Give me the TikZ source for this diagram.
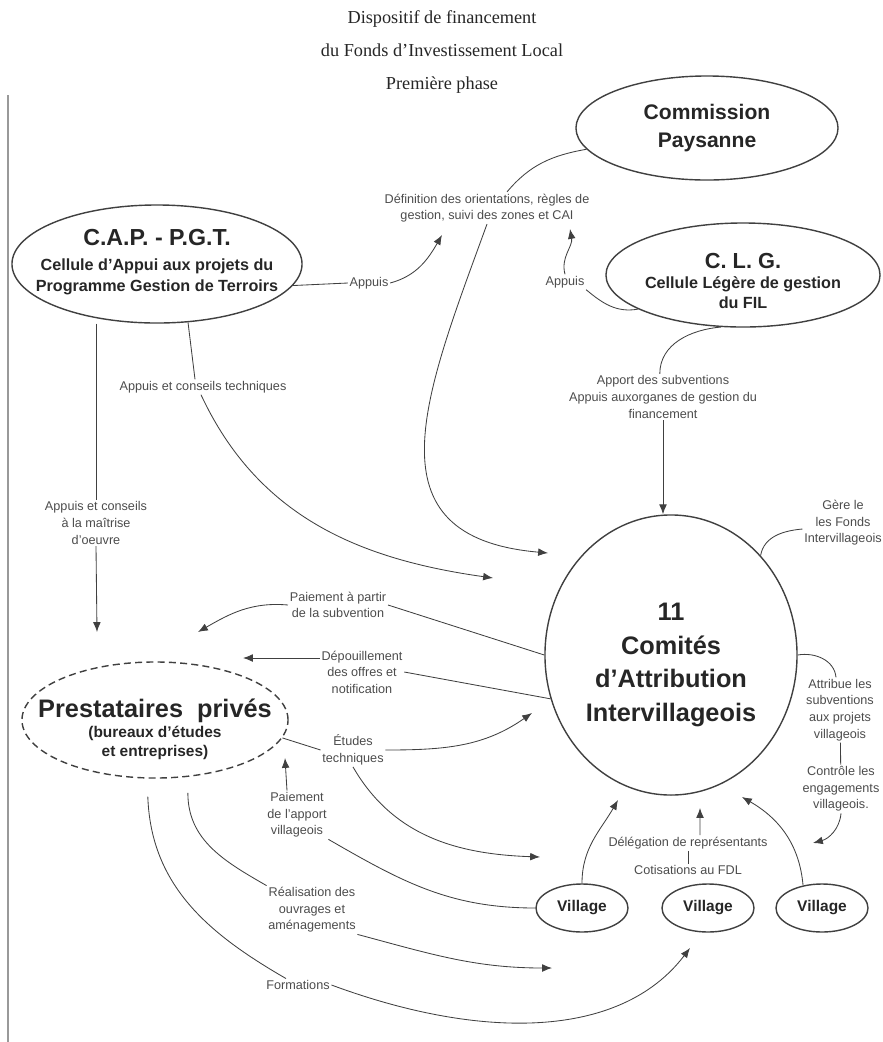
\documentclass[tikz,border=0pt]{standalone}
\usepackage{fontspec}
\setmainfont{Liberation Serif}
\setsansfont{Liberation Sans}
\usetikzlibrary{shapes.geometric,arrows.meta}

\tikzset{
  bubble/.style={draw, ellipse, line width=1pt, inner sep=0pt},
  heading/.style={align=center, inner sep=0pt, text=black!85},
  lbl/.style={align=center, inner sep=1pt, text=black!70,
    font=\sffamily\fontsize{9}{11.8}\selectfont},
  arr/.style={-{Latex[length=7pt,width=5.5pt]}},
}

\begin{document}
\begin{tikzpicture}[x=0.025cm, y=-0.025cm, line width=0.6pt, color=black!75]
\useasboundingbox (0,0) rectangle (883,1042);
%draw title:
\node[heading, font=\rmfamily\fontsize{13}{23.5}\selectfont] (title) at (442,52)
  {Dispositif de financement\\du Fonds d'Investissement Local\\Première phase};
%draw edge of the sheet:
\draw[black!40, line width=0.8pt] (8,95) -- (8,1042);

%draw ellipses:
\node[bubble, minimum width=6.55cm, minimum height=2.6cm] (cp) at (707,128) {};
\node[bubble, minimum width=7.25cm, minimum height=2.95cm] (cap) at (157,264) {};
\node[bubble, minimum width=6.85cm, minimum height=2.6cm] (clg) at (743,275) {};
\node[bubble, minimum width=6.3cm, minimum height=7cm] (cai) at (671,655) {};
\node[bubble, dash pattern=on 5pt off 3pt, minimum width=6.65cm, minimum height=2.9cm] (pp) at (155,720) {};
\node[bubble, minimum width=2.3cm, minimum height=1.2cm, font=\sffamily\bfseries\fontsize{11}{13}\selectfont, text=black!85] (v1) at (582,908) {Village};
\node[bubble, minimum width=2.3cm, minimum height=1.2cm, font=\sffamily\bfseries\fontsize{11}{13}\selectfont, text=black!85] (v2) at (708,908) {Village};
\node[bubble, minimum width=2.3cm, minimum height=1.2cm, font=\sffamily\bfseries\fontsize{11}{13}\selectfont, text=black!85] (v3) at (822,908) {Village};

%draw names in the ellipses:
\node[heading, font=\sffamily\bfseries\fontsize{15}{20}\selectfont] (cpt) at (cp) {Commission\\Paysanne};
\node[heading, font=\sffamily\bfseries\fontsize{11.5}{15}\selectfont] (capt) at (157,262)
  {{\fontsize{16.5}{19}\selectfont C.A.P. - P.G.T.}\\[3pt]Cellule d'Appui aux projets du\\Programme Gestion de Terroirs};
\node[heading, font=\sffamily\bfseries\fontsize{11.5}{14}\selectfont] (clgt) at (743,281)
  {{\fontsize{15.5}{18}\selectfont C. L. G.}\\Cellule Légère de gestion\\du FIL};
\node[heading, font=\sffamily\bfseries\fontsize{18}{24}\selectfont] (cait) at (671,665)
  {11\\Comités\\d'Attribution\\Intervillageois};
\node[heading, font=\sffamily\bfseries\fontsize{11}{13.5}\selectfont] (ppt) at (155,729)
  {{\fontsize{18}{20}\selectfont Prestataires\ \ privés}\\[1pt](bureaux d'études\\et entreprises)};

%draw labels:
\node[lbl] (appA) at (369,283) {Appuis};
\node[lbl] (def) at (487,208) {Définition des orientations, règles de\\gestion, suivi des zones et CAI};
\node[lbl] (appB) at (565,282) {Appuis};
\node[lbl] (apport) at (663,397) {Apport des subventions\\Appuis auxorganes de gestion du\\financement};
\node[lbl] (tech) at (203,387) {Appuis et conseils techniques};
\node[lbl] (moe) at (96,523) {Appuis et conseils\\à la maîtrise\\d'oeuvre};
\node[lbl] (gere) at (843,523) {Gère le\\les Fonds\\Intervillageois};
\node[lbl] (attr) at (840,710) {Attribue les\\subventions\\aux projets\\villageois};
\node[lbl] (ctrl) at (841,789) {Contrôle les\\engagements\\villageois.};
\node[lbl] (paysub) at (338,605) {Paiement à partir\\de la subvention};
\node[lbl] (depou) at (362,672) {Dépouillement\\des offres et\\notification};
\node[lbl] (etud) at (353,750) {Études\\techniques};
\node[lbl] (payvil) at (297,815) {Paiement\\de l'apport\\villageois};
\node[lbl] (deleg) at (688,843) {Délégation de représentants};
\node[lbl] (cotis) at (688,870) {Cotisations au FDL};
\node[lbl] (real) at (312,910) {Réalisation des\\ouvrages et\\aménagements};
\node[lbl] (form) at (298,985) {Formations};

%arrow tips:
\coordinate (tA1) at (442,235);
\coordinate (tA2) at (570,229);
\coordinate (tDef) at (548,553);
\coordinate (tTech) at (493,578);
\coordinate (tMoe) at (97,632);
\coordinate (tPaySub) at (198,632);
\coordinate (tDep) at (243,658);
\coordinate (tEtuC) at (532,713);
\coordinate (tEtuV) at (540,857);
\coordinate (tPayVil) at (285,758);
\coordinate (tReal) at (552,968);
\coordinate (tForm) at (690,948);
\coordinate (tV1) at (618,800);
\coordinate (tV2) at (700,808);
\coordinate (tV3) at (742,797);
\coordinate (tCtrl) at (813,843);

%draw connectors at the top:
\draw (cap.-9) -- (appA.west);
\draw[arr] (appA.east) to[out=15,in=-120] (tA1);
\draw (cp.190) to[out=190,in=50] ([xshift=0.5cm]def.north);
\draw[arr] (def.south) to[out=-110,in=175,looseness=1.4] (tDef);
\draw (clg.198) to[out=190,in=-40] (appB.south east);
\draw[arr] (appB.north) to[out=105,in=-80] (tA2);
\draw (clg.247) to[out=185,in=90] ([xshift=-0.08cm]apport.north);
\draw[arr] (apport.south) -- (apport.south |- cai.north);
\draw (cap.-62) -- ([xshift=-0.2cm]tech.north);
\draw[arr] ([xshift=-0.05cm]tech.south) to[out=-65,in=172] (tTech);
\draw (moe.north |- cap.south) -- (moe.north);
\draw[arr] (moe.south) -- (tMoe);

%draw connectors of the comites:
\draw (cai.48) to[out=80,in=185] ([yshift=-0.15cm]gere.west);
\draw (cai.east) to[out=10,in=95] ([xshift=-0.1cm]attr.north);
\draw (attr) -- (ctrl);
\draw[arr] (ctrl.south) to[out=-95,in=15] (tCtrl);
\draw (paysub.east) -- (cai.180);
\draw[arr] (paysub.west) to[out=175,in=30] (tPaySub);
\draw (depou.east) -- (cai.200);
\draw[arr] (depou.west |- tDep) -- (tDep);

%draw connectors of the prestataires:
\draw (pp.-8) -- (etud.west);
\draw[arr] (etud.east) to[out=0,in=215] (tEtuC);
\draw[arr] (etud.south) to[out=-60,in=178] (tEtuV);
\draw[arr] ([xshift=-0.25cm]payvil.north) -- (tPayVil);
\draw (payvil.south east) to[out=-30,in=180] (v1.west);
\draw ([yshift=-0.4cm]pp.-60) to[out=-90,in=150] (real.north west);
\draw[arr] (real.south east) to[out=-15,in=180] (tReal);
\draw ([yshift=-0.45cm]pp.-97) to[out=-88,in=150] ([xshift=-0.3cm]form.north);
\draw[arr] (form.east) .. controls (480,1040) and (620,1040) .. (tForm);

%draw connectors of the villages:
\draw[arr] (v1.north) to[out=90,in=240] (tV1);
\draw[arr] ([xshift=0.3cm]deleg.north) -- (tV2);
\draw (deleg) -- (cotis);
\draw[arr] (v3.130) to[out=95,in=-30] (tV3);
\end{tikzpicture}
\end{document}
